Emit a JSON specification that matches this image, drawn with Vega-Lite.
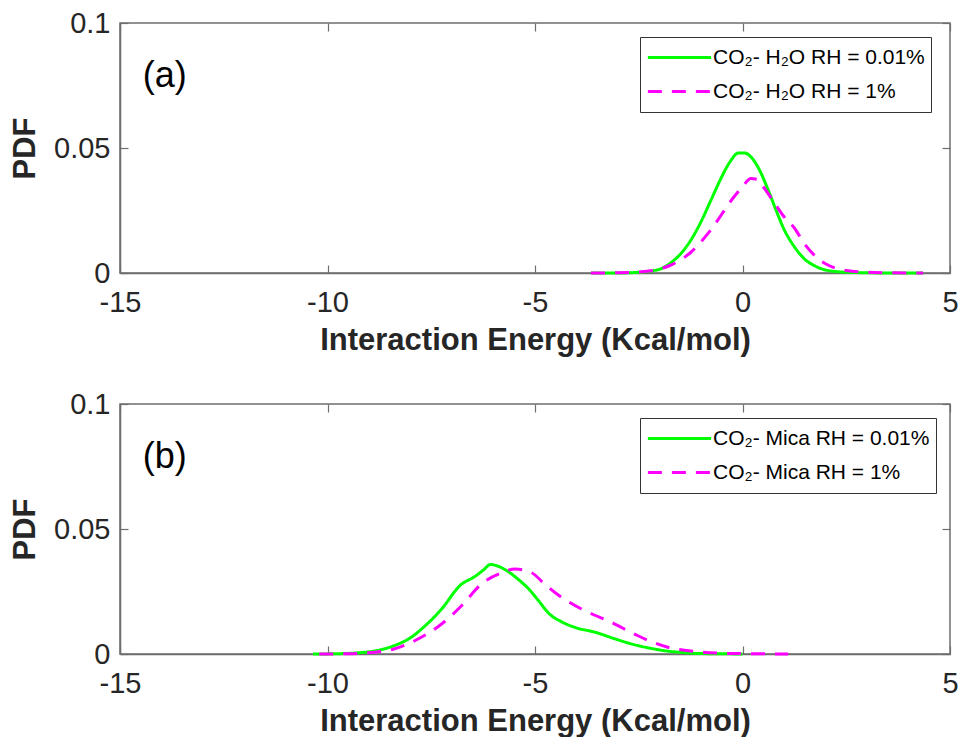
{
  "$schema": "https://vega.github.io/schema/vega-lite/v6.json",
  "background": "white",
  "padding": {"left": 8, "top": 8, "right": 4, "bottom": 0},
  "config": {
    "font": "Liberation Sans",
    "view": {"stroke": "#6e6e6e", "strokeWidth": 1.5},
    "axis": {"grid": false, "domainColor": "#6e6e6e", "domainWidth": 1.5, "tickColor": "#6e6e6e", "tickWidth": 1.2, "tickSize": -8, "labelFontSize": 29, "labelColor": "#262626", "titleFontSize": 31, "titleColor": "#262626", "titleFontWeight": "bold", "labelFlush": false},
    "axisX": {"titlePadding": 8, "labelPadding": 23},
    "axisY": {"titlePadding": 12, "labelPadding": 18},
    "legend": {"orient": "none", "legendX": 520, "legendY": 14, "strokeColor": "#333333", "fillColor": "white", "padding": 6, "labelFontSize": 21, "labelColor": "#000000", "symbolType": "stroke", "symbolSize": 4000, "symbolStrokeWidth": 3, "clipHeight": 29, "labelOffset": 0, "rowPadding": 5, "labelLimit": 400}
  },
  "datasets": {
    "a": [
      {"series": "CO₂- H₂O RH = 0.01%", "x": -3.65, "pdf": 0},
      {"series": "CO₂- H₂O RH = 0.01%", "x": -3, "pdf": 0},
      {"series": "CO₂- H₂O RH = 0.01%", "x": -2.5, "pdf": 0.0003},
      {"series": "CO₂- H₂O RH = 0.01%", "x": -2, "pdf": 0.0015},
      {"series": "CO₂- H₂O RH = 0.01%", "x": -1.75, "pdf": 0.0038},
      {"series": "CO₂- H₂O RH = 0.01%", "x": -1.5, "pdf": 0.0075},
      {"series": "CO₂- H₂O RH = 0.01%", "x": -1.25, "pdf": 0.013},
      {"series": "CO₂- H₂O RH = 0.01%", "x": -1, "pdf": 0.0205},
      {"series": "CO₂- H₂O RH = 0.01%", "x": -0.75, "pdf": 0.0295},
      {"series": "CO₂- H₂O RH = 0.01%", "x": -0.5, "pdf": 0.0385},
      {"series": "CO₂- H₂O RH = 0.01%", "x": -0.3, "pdf": 0.0445},
      {"series": "CO₂- H₂O RH = 0.01%", "x": -0.1, "pdf": 0.048},
      {"series": "CO₂- H₂O RH = 0.01%", "x": 0.05, "pdf": 0.048},
      {"series": "CO₂- H₂O RH = 0.01%", "x": 0.2, "pdf": 0.0465},
      {"series": "CO₂- H₂O RH = 0.01%", "x": 0.4, "pdf": 0.0415},
      {"series": "CO₂- H₂O RH = 0.01%", "x": 0.6, "pdf": 0.034},
      {"series": "CO₂- H₂O RH = 0.01%", "x": 0.8, "pdf": 0.0255},
      {"series": "CO₂- H₂O RH = 0.01%", "x": 1.0, "pdf": 0.0175},
      {"series": "CO₂- H₂O RH = 0.01%", "x": 1.25, "pdf": 0.0105},
      {"series": "CO₂- H₂O RH = 0.01%", "x": 1.5, "pdf": 0.0055},
      {"series": "CO₂- H₂O RH = 0.01%", "x": 1.75, "pdf": 0.0028},
      {"series": "CO₂- H₂O RH = 0.01%", "x": 2, "pdf": 0.0012},
      {"series": "CO₂- H₂O RH = 0.01%", "x": 2.5, "pdf": 0.0003},
      {"series": "CO₂- H₂O RH = 0.01%", "x": 3, "pdf": 0.0001},
      {"series": "CO₂- H₂O RH = 0.01%", "x": 3.5, "pdf": 0},
      {"series": "CO₂- H₂O RH = 0.01%", "x": 4.35, "pdf": 0},
      {"series": "CO₂- H₂O RH = 1%", "x": -3.65, "pdf": 0},
      {"series": "CO₂- H₂O RH = 1%", "x": -3, "pdf": 0.0001},
      {"series": "CO₂- H₂O RH = 1%", "x": -2.5, "pdf": 0.0004},
      {"series": "CO₂- H₂O RH = 1%", "x": -2, "pdf": 0.0016},
      {"series": "CO₂- H₂O RH = 1%", "x": -1.75, "pdf": 0.003},
      {"series": "CO₂- H₂O RH = 1%", "x": -1.5, "pdf": 0.0052},
      {"series": "CO₂- H₂O RH = 1%", "x": -1.25, "pdf": 0.0082},
      {"series": "CO₂- H₂O RH = 1%", "x": -1, "pdf": 0.0125},
      {"series": "CO₂- H₂O RH = 1%", "x": -0.75, "pdf": 0.0175},
      {"series": "CO₂- H₂O RH = 1%", "x": -0.5, "pdf": 0.0235},
      {"series": "CO₂- H₂O RH = 1%", "x": -0.25, "pdf": 0.0295},
      {"series": "CO₂- H₂O RH = 1%", "x": 0, "pdf": 0.0345},
      {"series": "CO₂- H₂O RH = 1%", "x": 0.2, "pdf": 0.0378},
      {"series": "CO₂- H₂O RH = 1%", "x": 0.35, "pdf": 0.0375},
      {"series": "CO₂- H₂O RH = 1%", "x": 0.5, "pdf": 0.0345},
      {"series": "CO₂- H₂O RH = 1%", "x": 0.75, "pdf": 0.0285},
      {"series": "CO₂- H₂O RH = 1%", "x": 1, "pdf": 0.0225},
      {"series": "CO₂- H₂O RH = 1%", "x": 1.25, "pdf": 0.018},
      {"series": "CO₂- H₂O RH = 1%", "x": 1.5, "pdf": 0.0115},
      {"series": "CO₂- H₂O RH = 1%", "x": 1.75, "pdf": 0.0068},
      {"series": "CO₂- H₂O RH = 1%", "x": 2, "pdf": 0.0037},
      {"series": "CO₂- H₂O RH = 1%", "x": 2.25, "pdf": 0.0019},
      {"series": "CO₂- H₂O RH = 1%", "x": 2.5, "pdf": 0.001},
      {"series": "CO₂- H₂O RH = 1%", "x": 3, "pdf": 0.0003},
      {"series": "CO₂- H₂O RH = 1%", "x": 3.5, "pdf": 0.0001},
      {"series": "CO₂- H₂O RH = 1%", "x": 4.35, "pdf": 0}
    ],
    "b": [
      {"series": "CO₂- Mica RH = 0.01%", "x": -10.35, "pdf": 0},
      {"series": "CO₂- Mica RH = 0.01%", "x": -9.8, "pdf": 0.0001},
      {"series": "CO₂- Mica RH = 0.01%", "x": -9.1, "pdf": 0.0007},
      {"series": "CO₂- Mica RH = 0.01%", "x": -8.4, "pdf": 0.0033},
      {"series": "CO₂- Mica RH = 0.01%", "x": -8, "pdf": 0.0065},
      {"series": "CO₂- Mica RH = 0.01%", "x": -7.7, "pdf": 0.0105},
      {"series": "CO₂- Mica RH = 0.01%", "x": -7.25, "pdf": 0.018},
      {"series": "CO₂- Mica RH = 0.01%", "x": -6.8, "pdf": 0.0275},
      {"series": "CO₂- Mica RH = 0.01%", "x": -6.45, "pdf": 0.031},
      {"series": "CO₂- Mica RH = 0.01%", "x": -6.25, "pdf": 0.0335},
      {"series": "CO₂- Mica RH = 0.01%", "x": -6.07, "pdf": 0.0358},
      {"series": "CO₂- Mica RH = 0.01%", "x": -5.9, "pdf": 0.0352},
      {"series": "CO₂- Mica RH = 0.01%", "x": -5.65, "pdf": 0.033},
      {"series": "CO₂- Mica RH = 0.01%", "x": -5.4, "pdf": 0.0298},
      {"series": "CO₂- Mica RH = 0.01%", "x": -5.15, "pdf": 0.026},
      {"series": "CO₂- Mica RH = 0.01%", "x": -4.9, "pdf": 0.021},
      {"series": "CO₂- Mica RH = 0.01%", "x": -4.67, "pdf": 0.0163},
      {"series": "CO₂- Mica RH = 0.01%", "x": -4.35, "pdf": 0.0128},
      {"series": "CO₂- Mica RH = 0.01%", "x": -4.03, "pdf": 0.0106},
      {"series": "CO₂- Mica RH = 0.01%", "x": -3.55, "pdf": 0.0087},
      {"series": "CO₂- Mica RH = 0.01%", "x": -3.1, "pdf": 0.0062},
      {"series": "CO₂- Mica RH = 0.01%", "x": -2.67, "pdf": 0.004},
      {"series": "CO₂- Mica RH = 0.01%", "x": -2.25, "pdf": 0.0024},
      {"series": "CO₂- Mica RH = 0.01%", "x": -1.87, "pdf": 0.0013},
      {"series": "CO₂- Mica RH = 0.01%", "x": -1.45, "pdf": 0.0006},
      {"series": "CO₂- Mica RH = 0.01%", "x": -1.07, "pdf": 0.0002},
      {"series": "CO₂- Mica RH = 0.01%", "x": -0.5, "pdf": 0.0001},
      {"series": "CO₂- Mica RH = 0.01%", "x": 0, "pdf": 0},
      {"series": "CO₂- Mica RH = 1%", "x": -10.2, "pdf": 0},
      {"series": "CO₂- Mica RH = 1%", "x": -9.6, "pdf": 0.0001},
      {"series": "CO₂- Mica RH = 1%", "x": -9.1, "pdf": 0.0004},
      {"series": "CO₂- Mica RH = 1%", "x": -8.4, "pdf": 0.002},
      {"series": "CO₂- Mica RH = 1%", "x": -7.9, "pdf": 0.0053},
      {"series": "CO₂- Mica RH = 1%", "x": -7.25, "pdf": 0.012},
      {"series": "CO₂- Mica RH = 1%", "x": -6.77, "pdf": 0.0193},
      {"series": "CO₂- Mica RH = 1%", "x": -6.29, "pdf": 0.028},
      {"series": "CO₂- Mica RH = 1%", "x": -5.8, "pdf": 0.0325},
      {"series": "CO₂- Mica RH = 1%", "x": -5.48, "pdf": 0.034},
      {"series": "CO₂- Mica RH = 1%", "x": -5.08, "pdf": 0.0325},
      {"series": "CO₂- Mica RH = 1%", "x": -4.8, "pdf": 0.0285},
      {"series": "CO₂- Mica RH = 1%", "x": -4.52, "pdf": 0.0246},
      {"series": "CO₂- Mica RH = 1%", "x": -4.2, "pdf": 0.021},
      {"series": "CO₂- Mica RH = 1%", "x": -3.88, "pdf": 0.018},
      {"series": "CO₂- Mica RH = 1%", "x": -3.56, "pdf": 0.0155},
      {"series": "CO₂- Mica RH = 1%", "x": -3.24, "pdf": 0.0133},
      {"series": "CO₂- Mica RH = 1%", "x": -2.88, "pdf": 0.0103},
      {"series": "CO₂- Mica RH = 1%", "x": -2.52, "pdf": 0.0073},
      {"series": "CO₂- Mica RH = 1%", "x": -2.16, "pdf": 0.0047},
      {"series": "CO₂- Mica RH = 1%", "x": -1.8, "pdf": 0.0027},
      {"series": "CO₂- Mica RH = 1%", "x": -1.4, "pdf": 0.0015},
      {"series": "CO₂- Mica RH = 1%", "x": -1.07, "pdf": 0.0009},
      {"series": "CO₂- Mica RH = 1%", "x": -0.6, "pdf": 0.0004},
      {"series": "CO₂- Mica RH = 1%", "x": -0.27, "pdf": 0.0002},
      {"series": "CO₂- Mica RH = 1%", "x": 0.4, "pdf": 0.0001},
      {"series": "CO₂- Mica RH = 1%", "x": 1.1, "pdf": 0}
    ],
    "labA": [{"label": "(a)"}],
    "labB": [{"label": "(b)"}]
  },
  "vconcat": [
    {
      "width": 830,
      "height": 250,
      "resolve": {"axis": {"x": "independent", "y": "independent"}},
      "layer": [
        {
          "data": {"name": "a"},
          "mark": {"type": "line", "strokeWidth": 3, "interpolate": "monotone"},
          "encoding": {
            "x": {"field": "x", "type": "quantitative", "scale": {"domain": [-15, 5], "nice": false}, "axis": {"values": [-15, -10, -5, 0, 5], "title": "Interaction Energy (Kcal/mol)", "labelExpr": "'' + datum.value"}},
            "y": {"field": "pdf", "type": "quantitative", "scale": {"domain": [0, 0.1], "nice": false}, "axis": {"values": [0, 0.05, 0.1], "title": "PDF", "labelExpr": "'' + datum.value"}},
            "color": {"field": "series", "type": "nominal", "scale": {"domain": ["CO₂- H₂O RH = 0.01%", "CO₂- H₂O RH = 1%"], "range": ["#00ff00", "#ff00ff"]}, "legend": {"title": null}},
            "strokeDash": {"field": "series", "type": "nominal", "scale": {"domain": ["CO₂- H₂O RH = 0.01%", "CO₂- H₂O RH = 1%"], "range": [[1, 0], [14, 10]]}, "legend": {"title": null}}
          }
        },
        {
          "data": {"name": "labA"},
          "mark": {"type": "text", "fontSize": 36, "align": "left", "baseline": "middle", "color": "#000000"},
          "encoding": {
            "x": {"datum": -14.45, "type": "quantitative", "axis": {"orient": "top", "values": [-15, -10, -5, 0, 5], "labels": false, "title": null, "domain": false}},
            "y": {"datum": 0.079, "type": "quantitative", "axis": {"orient": "right", "values": [0, 0.05, 0.1], "labels": false, "title": null, "domain": false}},
            "text": {"field": "label"}
          }
        }
      ]
    },
    {
      "width": 830,
      "height": 250,
      "resolve": {"axis": {"x": "independent", "y": "independent"}},
      "layer": [
        {
          "data": {"name": "b"},
          "mark": {"type": "line", "strokeWidth": 3, "interpolate": "monotone"},
          "encoding": {
            "x": {"field": "x", "type": "quantitative", "scale": {"domain": [-15, 5], "nice": false}, "axis": {"values": [-15, -10, -5, 0, 5], "title": "Interaction Energy (Kcal/mol)", "labelExpr": "'' + datum.value"}},
            "y": {"field": "pdf", "type": "quantitative", "scale": {"domain": [0, 0.1], "nice": false}, "axis": {"values": [0, 0.05, 0.1], "title": "PDF", "labelExpr": "'' + datum.value"}},
            "color": {"field": "series", "type": "nominal", "scale": {"domain": ["CO₂- Mica RH = 0.01%", "CO₂- Mica RH = 1%"], "range": ["#00ff00", "#ff00ff"]}, "legend": {"title": null}},
            "strokeDash": {"field": "series", "type": "nominal", "scale": {"domain": ["CO₂- Mica RH = 0.01%", "CO₂- Mica RH = 1%"], "range": [[1, 0], [14, 10]]}, "legend": {"title": null}}
          }
        },
        {
          "data": {"name": "labB"},
          "mark": {"type": "text", "fontSize": 36, "align": "left", "baseline": "middle", "color": "#000000"},
          "encoding": {
            "x": {"datum": -14.45, "type": "quantitative", "axis": {"orient": "top", "values": [-15, -10, -5, 0, 5], "labels": false, "title": null, "domain": false}},
            "y": {"datum": 0.079, "type": "quantitative", "axis": {"orient": "right", "values": [0, 0.05, 0.1], "labels": false, "title": null, "domain": false}},
            "text": {"field": "label"}
          }
        }
      ]
    }
  ],
  "spacing": 33,
  "resolve": {"scale": {"color": "independent", "strokeDash": "independent"}}
}
